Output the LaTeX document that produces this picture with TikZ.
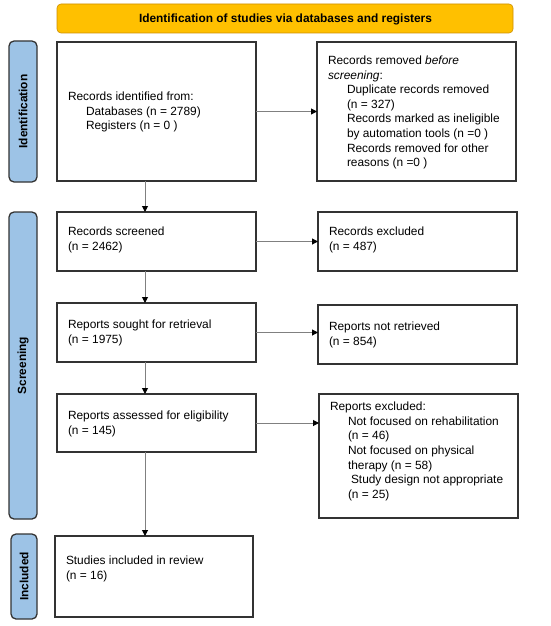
\documentclass[tikz,border=0pt]{standalone}
\usepackage{fontspec}
\setmainfont{Liberation Sans}
\usetikzlibrary{arrows.meta}
\begin{document}
\begin{tikzpicture}[x=1pt,y=-1pt,
  every node/.style={inner sep=0pt, outer sep=0pt},
  box/.style={draw=black!80, line width=1.3pt, rectangle},
  txt/.style={anchor=west, align=left, font=\fontsize{11.9}{14.6}\selectfont},
  banner/.style={draw=orange!60!yellow!80!black, line width=0.6pt, fill={rgb,255:red,255;green,192;blue,0}, rounded corners=4pt},
  phase/.style={draw=black!80, line width=1.3pt, fill={rgb,255:red,157;green,195;blue,230}, rounded corners=5pt},
  phasetxt/.style={rotate=90, font=\fontsize{11.9}{13}\selectfont\bfseries},
  conn/.style={draw=black!50, line width=1pt, -{Triangle[length=6pt,width=6pt,fill=black,color=black]}},
]
\useasboundingbox (0,0) rectangle (550,626);

% banner
\path[banner] (57,4) rectangle (513,33);
\node[font=\fontsize{11.9}{13}\selectfont\bfseries] (ban) at (285.5,19) {Identification of studies via databases and registers};

% phase labels
\path[phase] (9,41) rectangle (37,182);
\node[phasetxt] (pid) at (23,111.5) {Identification};
\path[phase] (9,212) rectangle (37,519);
\node[phasetxt] (psc) at (23,365.5) {Screening};
\path[phase] (11,534) rectangle (37,619);
\node[phasetxt] (pin) at (24,576.5) {Included};

% boxes
\node[box, minimum width=199pt, minimum height=139pt] (b1) at (156.5,111.5) {};
\node[box, minimum width=199pt, minimum height=139pt] (b2) at (416.5,111.5) {};
\node[box, minimum width=199pt, minimum height=59pt] (b3) at (156.5,241.5) {};
\node[box, minimum width=199pt, minimum height=59pt] (b4) at (417.5,241.5) {};
\node[box, minimum width=199pt, minimum height=59pt] (b5) at (156.5,332.5) {};
\node[box, minimum width=199pt, minimum height=59pt] (b6) at (417.5,334.5) {};
\node[box, minimum width=199pt, minimum height=58pt] (b7) at (156.5,423) {};
\node[box, minimum width=199pt, minimum height=124pt] (b8) at (418.5,456) {};
\node[box, minimum width=198pt, minimum height=81pt] (b9) at (154,576.5) {};

% texts
\node[txt] (t1) at (68,112) {Records identified from:\\
\hspace*{18pt}Databases (n = 2789)\\
\hspace*{18pt}Registers (n = 0 )};
\node[txt] (t2) at (328,112.5) {Records removed \textit{before}\\
\textit{screening}:\\
\hspace*{19pt}Duplicate records removed\\
\hspace*{19pt}(n = 327)\\
\hspace*{19pt}Records marked as ineligible\\
\hspace*{19pt}by automation tools (n =0 )\\
\hspace*{19pt}Records removed for other\\
\hspace*{19pt}reasons (n =0 )};
\node[txt] (t3) at (68,240) {Records screened\\(n = 2462)};
\node[txt] (t4) at (329,240) {Records excluded\\(n = 487)};
\node[txt] (t5) at (68,333) {Reports sought for retrieval\\(n = 1975)};
\node[txt] (t6) at (329,335) {Reports not retrieved\\(n = 854)};
\node[txt] (t7) at (68,424) {Reports assessed for eligibility\\(n = 145)};
\node[txt] (t8) at (330,451.5) {Reports excluded:\\
\hspace*{18pt}Not focused on rehabilitation\\
\hspace*{18pt}(n = 46)\\
\hspace*{18pt}Not focused on physical\\
\hspace*{18pt}therapy (n = 58)\\
\hspace*{21pt}Study design not appropriate\\
\hspace*{18pt}(n = 25)};
\node[txt] (t9) at (66,569) {Studies included in review\\(n = 16)};

% connectors
\coordinate (ax) at (145,0);
\draw[conn] (b1.south -| ax) -- (b3.north -| ax);
\draw[conn] (b3.south -| ax) -- (b5.north -| ax);
\draw[conn] (b5.south -| ax) -- (b7.north -| ax);
\draw[conn] (b7.south -| ax) -- (b9.north -| ax);
\draw[conn] (b1.east) -- (b1.east -| b2.west);
\draw[conn] (b3.east) -- (b3.east -| b4.west);
\draw[conn] (b5.east) -- (b5.east -| b6.west);
\draw[conn] (b7.east) -- (b7.east -| b8.west);
\end{tikzpicture}
\end{document}
